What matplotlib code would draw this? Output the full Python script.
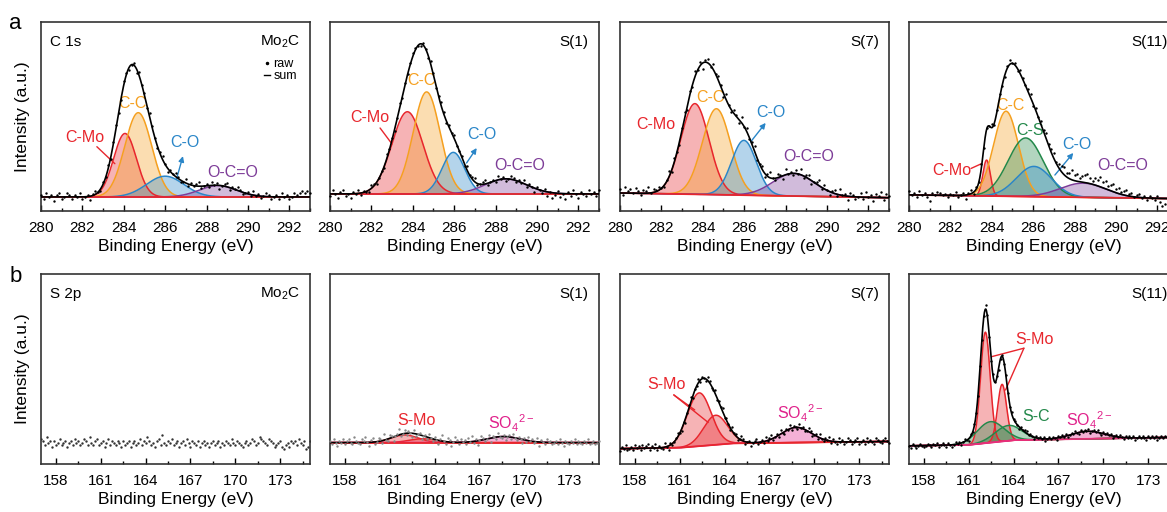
import numpy as np
import matplotlib.pyplot as plt
from matplotlib.lines import Line2D

plt.rcParams['font.family'] = ['Liberation Sans', 'DejaVu Sans']
plt.rcParams['mathtext.default'] = 'regular'

RED = '#e8262d'
ORANGE = '#f5a020'
BLUE = '#2a86c8'
PURPLE = '#7d3c98'
GREEN = '#23884a'
MAGENTA = '#e0208a'

# ---- C 1s fits (heights/baselines as fraction of the panel height) ----
c_labels = ['C-Mo', 'C-C', 'C-O', 'O-C=O']
c_colors = [RED, ORANGE, BLUE, PURPLE]
c11_labels = ['C-Mo', 'C-C', 'C-S', 'C-O', 'O-C=O']
c11_colors = [RED, ORANGE, GREEN, BLUE, PURPLE]

c_mo2c_base = [0.074, 0.074]
c_mo2c_centers = [284.06, 284.70, 286.00, 288.55]
c_mo2c_heights = [0.336, 0.446, 0.110, 0.060]
c_mo2c_widths = [0.55, 0.65, 0.90, 0.90]

c_s1_base = [0.090, 0.090]
c_s1_centers = [283.74, 284.67, 285.96, 288.50]
c_s1_heights = [0.435, 0.540, 0.220, 0.080]
c_s1_widths = [0.75, 0.65, 0.55, 1.00]

c_s7_base = [0.095, 0.070]
c_s7_centers = [283.62, 284.66, 285.99, 288.40]
c_s7_heights = [0.480, 0.455, 0.290, 0.120]
c_s7_widths = [0.68, 0.68, 0.60, 1.00]

c_s11_base = [0.085, 0.065]
c_s11_centers = [283.75, 284.69, 285.64, 286.04, 288.42]
c_s11_heights = [0.190, 0.450, 0.310, 0.160, 0.075]
c_s11_widths = [0.18, 0.60, 0.85, 0.85, 1.10]

# raw-minus-fit scatter (0.125 eV steps, in % of panel height)
c_mo2c_resid = [1, -1, 2, 0, 1, -2, 1, 2, -1, 0, 2, 1, -1, 1, 0,
                2, -1, 0, 1, -2, 1, 2, 0, -1, 1, 0, 2, -1, 1, 2,
                0, -1, 2, 1, -1, 0, 1, -2, 2, 0, 1, -1, 2, 1, 0,
                -1, 1, 2, 0, -2, 1, 0, 2, 1, -1, 0, 2, -1, 1, 0,
                1, 2, -1, 0, 1, -1, 2, 0, 1, -2, 0, 1, 2, -1, 1,
                0, 2, 1, -1, 0, 1, -1, 2, 0, 1, -1, 0, 2, 1, -1,
                0, 1, -1, 2, 0, 1, -1, 0, 2, 1, 2, 3, 2, 3, 2]
c_s1_resid = [-1, 2, 0, -2, 1, 2, -1, 0, -2, 1, 0, 2, -1, 1, 0,
              -1, 2, 1, -1, 0, 1, -1, 2, 0, 1, -1, 0, 2, -1, 1,
              0, 1, 2, 1, 0, -1, 1, 0, -1, 2, 1, -1, 0, 2, 1,
              -1, 1, 0, 2, -1, 0, 1, -1, 2, 0, 1, 2, -1, 0, 1,
              2, -1, 0, 1, -1, 2, 0, 1, -1, 0, 2, 1, -1, 1, 0,
              2, -1, 1, 0, -2, 1, 0, -1, 1, -2, 0, -3, -1, 1, -2,
              0, -3, 1, -1, 2, 0, -2, 1, 0, -1, 2, 0, 1, -1, 2]
c_s7_resid = [2, -1, 3, 1, 2, 0, 3, 1, -1, 2, 1, 3, 0, 2, 1,
              2, 0, -1, 1, 3, -1, 2, 0, -2, 1, 3, -2, 2, -1, 3,
              0, 2, -3, 1, 2, -1, 3, 0, 2, 1, -2, 3, 0, -1, 2,
              1, -2, 3, 0, 2, -1, 1, 3, -1, 0, 2, -2, 1, 3, 0,
              -1, 2, 1, -2, 3, 0, 1, -1, 2, 0, 3, -1, 1, 2, -2,
              0, 1, 3, -1, 2, 0, -2, 1, 2, -1, 3, 0, 1, -2, 2,
              1, -1, 0, 2, -1, 3, 0, 1, -2, 2, 1, 3, -1, 2, 1]
c_s11_resid = [2, 0, 1, -1, 2, 0, 1, -1, -3, 1, 0, 2, 1, 0, 1,
               -1, 1, 0, 2, -1, 0, 1, -2, 1, 2, -1, 1, 0, 2, -1,
               1, 0, 2, -1, 1, 2, 0, -1, 1, 2, 0, 1, -1, 2, 1,
               0, 1, 2, -1, 1, 0, 2, 1, 3, 1, 2, 3, 1, 2, 3,
               4, 2, 3, 5, 3, 4, 2, 3, 4, 5, 3, 2, 4, 3, 5,
               3, 4, 2, 3, 4, 2, 3, 1, 2, 3, 1, 2, 0, 1, 2,
               0, 1, -1, 1, 0, -1, 1, -2, -4, -3, 0, 1, -1, 2, 1]

# ---- S 2p fits ----
s_mo2c_level = 0.11
s_s1_base_x = [157, 175]
s_s1_base_y = [0.112, 0.112]
s_s1_centers = [162.0, 163.2, 168.6]
s_s1_heights = [0.040, 0.020, 0.032]
s_s1_widths = [0.9, 0.9, 1.1]
s_s1_colors = [RED, RED, MAGENTA]

s_s7_base_x = [157, 161, 164.5, 175]
s_s7_base_y = [0.080, 0.085, 0.108, 0.118]
s_s7_centers = [162.3, 163.4, 168.8]
s_s7_heights = [0.280, 0.155, 0.080]
s_s7_widths = [0.8, 0.8, 1.0]
s_s7_colors = [RED, RED, MAGENTA]

s_s11_base_x = [157, 161, 164, 175]
s_s11_base_y = [0.095, 0.100, 0.125, 0.140]
s_s11_centers = [162.11, 163.23, 162.45, 163.65, 168.95]
s_s11_heights = [0.584, 0.300, 0.110, 0.080, 0.040]
s_s11_widths = [0.32, 0.30, 0.90, 0.90, 1.10]
s_s11_colors = [RED, RED, GREEN, GREEN, MAGENTA]

s_mo2c_resid = [2, 1, -1, 3, 0, 1, -2, 1, -1, 0, 2, -1, 0, 1, -2,
                0, 1, -1, 2, 0, 1, -1, 0, 2, 1, -1, 3, 0, -1, 1,
                2, -1, 0, 1, -2, 0, 2, -1, 1, 0, -1, 1, 0, -2, 1,
                -1, 0, 1, -2, 0, 1, -1, 0, 2, -1, 1, 0, 3, 1, -1,
                0, -2, 1, 2, -1, 4, 0, -1, 1, 0, 2, -1, 0, 1, -2,
                0, 1, -1, 2, 0, -2, 1, 0, -1, 1, -2, 0, 1, -1, 0,
                -2, 0, 1, -1, 0, 1, -2, 0, -1, 1, 0, -1, 2, 0, -1,
                1, 0, -1, -2, 0, 1, -1, 0, 2, 1, -1, 0, 3, 2, 1,
                0, -1, 2, 1, 0, -2, -1, 0, 1, -2, -3, -1, 0, -2, 1,
                0, 1, -1, 2, 0, -1, 1, -3, -2, 1]
s_s1_resid = [1, -1, 2, 0, -2, 1, 0, 2, -1, 1, 2, 0, -1, 3, 1,
              0, -1, 2, 1, 3, 0, -2, 1, 2, -1, 0, 2, 1, -1, 3,
              0, -1, 2, 1, -2, 0, 1, 3, -1, 0, 2, -1, 1, 0, -2,
              2, -1, 0, 1, -2, 0, 1, -1, 2, 0, -1, 1, 0, -2, 1,
              3, 0, -1, 2, 1, -2, 0, 3, 1, -1, 2, 0, 1, -1, 2,
              0, 3, -1, 1, -2, 0, 2, 1, -1, 0, 2, -2, 1, 0, -1,
              2, 0, -1, 1, -2, 0, 1, -1, 2, 0, -1, 1, 0, -2, 1,
              -1, 2, 0, 1, -1, 0, 2, -2, 1, 0, -1, 2, 0, 1, -1,
              0, 1, -1, 2, 0, -2, 1, 0, -1, 1, 0, 2, -1, 1, 0,
              -1, 1, 0, 2, -1, 0, 1, -1, 0, 1]
s_s7_resid = [-1, 1, 0, 2, -1, 0, 1, -1, 2, 0, 1, -1, 2, 0, 1,
              2, -1, 1, 0, 2, -1, 1, 0, -1, 2, 0, -2, 1, -1, 0,
              1, 2, 0, -1, 1, -2, 0, 1, 2, -1, 1, 0, 2, -1, 1,
              0, -1, 2, 1, -1, 0, 2, -1, 1, 0, 2, -1, 1, 0, -1,
              2, 0, 1, -1, 0, 2, 1, -1, 0, 1, -2, 0, 1, 2, -1,
              0, 1, -1, 2, 0, 1, 2, -1, 0, 1, -1, 2, 0, -1, 1,
              0, 2, -1, 1, 0, -1, 2, 0, 1, -1, 0, 2, 1, -1, 0,
              1, -1, 2, 0, -1, 1, 0, 2, -1, 1, 0, -1, 2, 0, 1,
              -1, 0, 2, 1, -1, 0, 1, 2, -1, 0, 1, -1, 2, 0, 1,
              0, -1, 2, 1, 0, -1, 1, 2, 0, -1]
s_s11_resid = [0, -1, 1, 0, -1, 0, 1, 0, -1, 0, 1, 0, -1, 1, 0,
               1, -1, 0, 1, 0, -1, 1, 0, -1, 0, 1, 0, 1, -1, 0,
               1, 0, -1, 1, 0, 1, 0, -1, 1, 0, 1, 2, 1, 0, -1,
               1, 0, 1, -1, 0, 1, 0, 1, 0, -1, 1, 0, 1, 0, -1,
               1, 0, 1, 1, 0, 1, 0, -1, 1, 0, 1, 0, 1, -1, 0,
               1, 0, 1, 0, -1, 1, 0, 1, 0, 1, -1, 0, 1, 0, 1,
               0, -1, 1, 0, 1, 0, 1, -1, 0, 1, 0, 1, 0, -1, 1,
               0, 1, 0, 1, -1, 0, 1, 0, 1, 0, -1, 1, 0, 1, 0,
               1, -1, 0, 1, 0, 1, 0, -1, 1, 0, 1, 0, 1, -1, 0,
               1, 0, 1, 0, -1, 1, 0, 1, 0, 1]

c_ticks = [280, 282, 284, 286, 288, 290, 292]
s_ticks = [158, 161, 164, 167, 170, 173]
STEP = 0.125


def components(x, base_x, base_y, centers, heights, widths):
    base = np.interp(x, base_x, base_y)
    comps = [h * np.exp(-(x - c) ** 2 / (2 * w ** 2))
             for c, h, w in zip(centers, heights, widths)]
    return base, comps


def draw_fit(ax, lims, base_x, base_y, centers, heights, widths, colors, resid,
             dot_color='k', base_color=RED):
    x = np.linspace(lims[0], lims[1], 800)
    base, comps = components(x, base_x, base_y, centers, heights, widths)
    for g, col in zip(comps, colors):
        ax.fill_between(x, base, base + g, color=col, alpha=0.35, lw=0)
        ax.plot(x, base + g, color=col, lw=1.1)
    ax.plot(x, base, color=base_color, lw=1.3)
    ax.plot(x, base + np.sum(comps, axis=0), color='k', lw=1.2, zorder=4)
    xr = lims[0] + STEP * np.arange(len(resid))
    b2, c2 = components(xr, base_x, base_y, centers, heights, widths)
    ax.scatter(xr, b2 + np.sum(c2, axis=0) + np.array(resid) / 100.0,
               s=3, color=dot_color, lw=0, zorder=5, clip_on=False)


fig = plt.figure(figsize=(11.67, 5.12), dpi=100)
lefts = [41, 330, 620, 909]
axes_a = [fig.add_axes([l / 1167, 0.588, 269 / 1167, 0.369]) for l in lefts]
axes_b = [fig.add_axes([l / 1167, 0.094, 269 / 1167, 0.371]) for l in lefts]

for ax in axes_a + axes_b:
    ax.set_ylim(0, 1)
    ax.set_yticks([])
    for sp in ax.spines.values():
        sp.set_linewidth(1.2)
        sp.set_color('#333333')
    ax.tick_params(axis='x', direction='in', length=4, width=1, labelsize=11,
                   pad=7, top=False)
    ax.tick_params(axis='x', which='minor', direction='in', length=2.5, width=1)
    ax.set_xlabel('Binding Energy (eV)', fontsize=12.5, labelpad=3)

for ax in axes_a:
    ax.set_xlim(280, 293)
    ax.set_xticks(c_ticks)
    ax.set_xticks([t + 1 for t in c_ticks], minor=True)
for ax in axes_b:
    ax.set_xlim(157, 175)
    ax.set_xticks(s_ticks)
    ax.set_xticks([t + 1.5 for t in s_ticks], minor=True)

for ax in (axes_a[0], axes_b[0]):
    ax.set_ylabel('Intensity (a.u.)', fontsize=12.5, labelpad=8)

lim_c = (280, 293)
lim_s = (157, 175)

# row a
draw_fit(axes_a[0], lim_c, lim_c, c_mo2c_base, c_mo2c_centers, c_mo2c_heights,
         c_mo2c_widths, c_colors, c_mo2c_resid)
draw_fit(axes_a[1], lim_c, lim_c, c_s1_base, c_s1_centers, c_s1_heights,
         c_s1_widths, c_colors, c_s1_resid)
draw_fit(axes_a[2], lim_c, lim_c, c_s7_base, c_s7_centers, c_s7_heights,
         c_s7_widths, c_colors, c_s7_resid)
draw_fit(axes_a[3], lim_c, lim_c, c_s11_base, c_s11_centers, c_s11_heights,
         c_s11_widths, c11_colors, c_s11_resid)

# row b
xr = 157 + STEP * np.arange(len(s_mo2c_resid))
axes_b[0].scatter(xr, s_mo2c_level + np.array(s_mo2c_resid) / 100.0, s=3,
                  color='#333333', lw=0)
draw_fit(axes_b[1], lim_s, s_s1_base_x, s_s1_base_y, s_s1_centers, s_s1_heights,
         s_s1_widths, s_s1_colors, s_s1_resid, dot_color='#888888')
draw_fit(axes_b[2], lim_s, s_s7_base_x, s_s7_base_y, s_s7_centers, s_s7_heights,
         s_s7_widths, s_s7_colors, s_s7_resid)
draw_fit(axes_b[3], lim_s, s_s11_base_x, s_s11_base_y, s_s11_centers,
         s_s11_heights, s_s11_widths, s_s11_colors, s_s11_resid,
         base_color='#e8307a')

# panel names
names = ['Mo$_2$C', 'S(1)', 'S(7)', 'S(11)']
for ax, nm in zip(axes_a, names):
    ax.text(0.962, 0.895, nm, transform=ax.transAxes, ha='right', va='center',
            fontsize=11)
for ax, nm in zip(axes_b, names):
    ax.text(0.962, 0.895, nm, transform=ax.transAxes, ha='right', va='center',
            fontsize=11)
axes_a[0].text(0.035, 0.895, 'C 1s', transform=axes_a[0].transAxes,
               va='center', fontsize=11)
axes_b[0].text(0.035, 0.895, 'S 2p', transform=axes_b[0].transAxes,
               va='center', fontsize=11)
axes_a[0].legend(handles=[Line2D([], [], marker='.', ls='none', color='k', ms=3),
                          Line2D([], [], color='k', lw=1)],
                 labels=['raw', 'sum'], loc='upper right',
                 bbox_to_anchor=(0.975, 0.84), frameon=False, fontsize=9,
                 handlelength=0.5, handletextpad=0.3, labelspacing=0.0,
                 borderpad=0)

fig.text(0.008, 0.955, 'a', fontsize=16, va='center')
fig.text(0.008, 0.46, 'b', fontsize=16, va='center')

fs = 11.5


def tag(ax, text, xy, col):
    ax.text(xy[0], xy[1], text, color=col, fontsize=fs, ha='center', va='center')


def link(ax, p0, p1, col, head=False):
    st = '-|>' if head else '-'
    ax.annotate('', xy=p1, xytext=p0,
                arrowprops=dict(arrowstyle=st, color=col, lw=1,
                                mutation_scale=8, shrinkA=0, shrinkB=0))


# a1
ax = axes_a[0]
tag(ax, 'C-Mo', (282.13, 0.39), RED)
link(ax, (282.7, 0.34), (283.57, 0.25), RED)
tag(ax, 'C-C', (284.44, 0.571), ORANGE)
tag(ax, 'C-O', (286.95, 0.36), BLUE)
link(ax, (286.55, 0.17), (286.86, 0.29), BLUE, head=True)
tag(ax, 'O-C=O', (289.28, 0.206), PURPLE)
# a2
ax = axes_a[1]
tag(ax, 'C-Mo', (281.93, 0.492), RED)
link(ax, (282.42, 0.439), (283.0, 0.354), RED)
tag(ax, 'C-C', (284.43, 0.693), ORANGE)
tag(ax, 'C-O', (287.33, 0.402), BLUE)
link(ax, (286.6, 0.254), (287.09, 0.333), BLUE, head=True)
tag(ax, 'O-C=O', (289.18, 0.243), PURPLE)
# a3
ax = axes_a[2]
tag(ax, 'C-Mo', (281.72, 0.455), RED)
tag(ax, 'C-C', (284.38, 0.598), ORANGE)
tag(ax, 'C-O', (287.28, 0.519), BLUE)
link(ax, (286.31, 0.365), (287.04, 0.466), BLUE, head=True)
tag(ax, 'O-C=O', (289.12, 0.286), PURPLE)
# a4
ax = axes_a[3]
tag(ax, 'C-Mo', (282.06, 0.213), RED)
link(ax, (283.0, 0.225), (283.5, 0.25), RED)
tag(ax, 'C-C', (284.88, 0.556), ORANGE)
tag(ax, 'C-S', (285.85, 0.425), GREEN)
tag(ax, 'C-O', (288.10, 0.354), BLUE)
link(ax, (287.05, 0.19), (287.94, 0.307), BLUE, head=True)
tag(ax, 'O-C=O', (290.34, 0.243), PURPLE)

so4 = 'SO$_4$$^{2-}$'
# b2
ax = axes_b[1]
tag(ax, 'S-Mo', (162.8, 0.228), RED)
tag(ax, so4, (169.1, 0.214), MAGENTA)
# b3
ax = axes_b[2]
tag(ax, 'S-Mo', (160.1, 0.416), RED)
link(ax, (160.6, 0.363), (162.0, 0.284), RED)
link(ax, (160.6, 0.363), (162.9, 0.218), RED)
tag(ax, so4, (169.05, 0.267), MAGENTA)
# b4
ax = axes_b[3]
tag(ax, 'S-Mo', (165.4, 0.656), RED)
link(ax, (164.69, 0.609), (162.56, 0.565), RED)
link(ax, (164.69, 0.609), (163.46, 0.389), RED)
tag(ax, 'S-C', (165.47, 0.249), GREEN)
tag(ax, so4, (169.04, 0.228), MAGENTA)

fig.savefig('out.png', dpi=100)
